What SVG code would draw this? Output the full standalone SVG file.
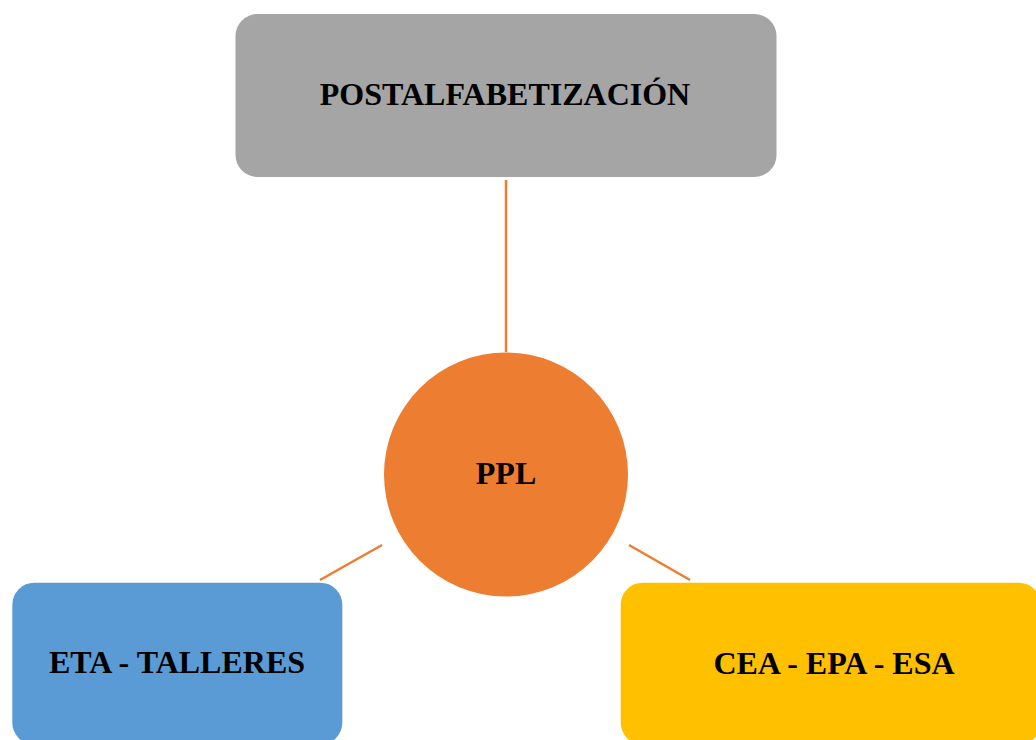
<svg xmlns="http://www.w3.org/2000/svg" width="1036" height="740" viewBox="0 0 1036 740">
<style>
.lbl{font-family:"Liberation Serif","Times New Roman",serif;font-weight:bold;font-size:32px;fill:#000;text-anchor:middle}
.conn{stroke:#ED7D31;stroke-width:2.5;fill:none}
</style>
<rect width="1036" height="740" fill="#fff"/>
<g id="connectors">
<line class="conn" x1="506" y1="180" x2="506" y2="352"/>
<line class="conn" x1="382" y1="545" x2="320" y2="580"/>
<line class="conn" x1="629" y1="545" x2="690" y2="580"/>
</g>
<g id="node-postalfabetizacion">
<rect x="235.5" y="14" width="541" height="163" rx="22" fill="#A5A5A5"/>
<text class="lbl" x="505" y="105">POSTALFABETIZACIÓN</text>
</g>
<g id="node-ppl">
<circle cx="506" cy="474.5" r="122" fill="#ED7D31"/>
<text class="lbl" x="506" y="484">PPL</text>
</g>
<g id="node-eta">
<rect x="12.3" y="582.7" width="330" height="162" rx="22" fill="#5B9BD5"/>
<text class="lbl" x="177" y="673">ETA - TALLERES</text>
</g>
<g id="node-cea">
<rect x="620.7" y="582.7" width="420" height="162" rx="22" fill="#FFC000"/>
<text class="lbl" x="834" y="674">CEA - EPA - ESA</text>
</g>
</svg>
